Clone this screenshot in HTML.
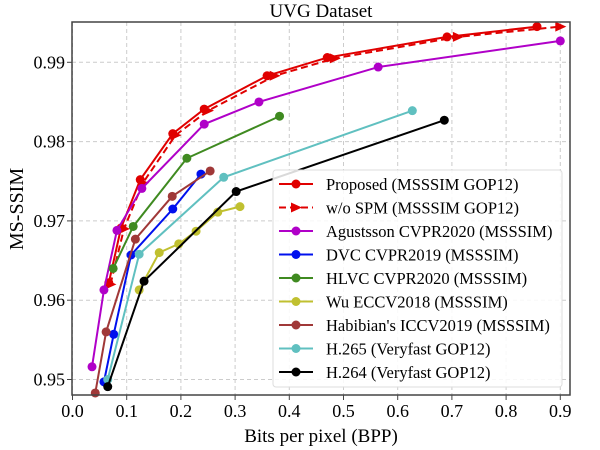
<!DOCTYPE html>
<html><head><meta charset="utf-8"><style>
body{margin:0;background:#fff}
svg{display:block;font-family:"Liberation Serif",serif}
</style></head><body>
<svg id="chart" width="600" height="450" viewBox="0 0 600 450" xmlns="http://www.w3.org/2000/svg">
<g id="grid"></g>
<g id="series"></g>
<rect x="72" y="22" width="498" height="373" fill="none" stroke="#444" stroke-width="1.5"/>
<g id="axes"></g>
<text x="321" y="17" font-size="19" text-anchor="middle">UVG Dataset</text>
<text x="321" y="442" font-size="19" text-anchor="middle">Bits per pixel (BPP)</text>
<text x="23" y="209" font-size="20" text-anchor="middle" transform="rotate(-90 23 209)">MS-SSIM</text>
<g id="legend"></g>
</svg>
<script>
const xTicks=[0.0,0.1,0.2,0.3,0.4,0.5,0.6,0.7,0.8,0.9];
const yTicks=[0.95,0.96,0.97,0.98,0.99];
const seriesNames=["Proposed (MSSSIM GOP12)","w/o SPM (MSSSIM GOP12)","Agustsson CVPR2020 (MSSSIM)","DVC CVPR2019 (MSSSIM)","HLVC CVPR2020 (MSSSIM)","Wu ECCV2018 (MSSSIM)","Habibian's ICCV2019 (MSSSIM)","H.265 (Veryfast GOP12)","H.264 (Veryfast GOP12)"];
const seriesColors=["#e00000","#e00000","#b000c8","#0010ee","#3f8a20","#c0c030","#a03838","#60c0c0","#000000"];
const proposedX=[0.067,0.0895,0.125,0.185,0.243,0.359,0.470,0.691,0.857];
const proposedY=[0.9622,0.9691,0.9752,0.9810,0.9841,0.9883,0.9906,0.9932,0.9945];
const wospmX=[0.070,0.095,0.130,0.190,0.250,0.373,0.484,0.711,0.900];
const wospmY=[0.9620,0.9690,0.9748,0.9808,0.9839,0.9883,0.9905,0.9932,0.9945];
const agusX=[0.036,0.058,0.082,0.128,0.243,0.344,0.564,0.900];
const agusY=[0.9516,0.9613,0.9688,0.9741,0.9822,0.9850,0.9894,0.9927];
const dvcX=[0.058,0.076,0.108,0.185,0.237];
const dvcY=[0.9497,0.9557,0.9657,0.9715,0.9759];
const hlvcX=[0.075,0.112,0.211,0.382];
const hlvcY=[0.9640,0.9693,0.9779,0.9832];
const wuX=[0.123,0.160,0.196,0.228,0.268,0.309];
const wuY=[0.9613,0.9660,0.9671,0.9687,0.9711,0.9718];
const habX=[0.042,0.062,0.116,0.184,0.254];
const habY=[0.9483,0.9560,0.9677,0.9731,0.9763];
const h265X=[0.065,0.123,0.279,0.627];
const h265Y=[0.9500,0.9658,0.9755,0.9839];
const h264X=[0.065,0.132,0.302,0.686];
const h264Y=[0.9491,0.9624,0.9737,0.9827];
const allX=[proposedX,wospmX,agusX,dvcX,hlvcX,wuX,habX,h265X,h264X];
const allY=[proposedY,wospmY,agusY,dvcY,hlvcY,wuY,habY,h265Y,h264Y];

const NS="http://www.w3.org/2000/svg";
function sx(v){return 72.5+v*542;}
function sy(v){return 62.3+(0.99-v)*7930;}
function mk(tag,attrs,parent){const e=document.createElementNS(NS,tag);for(const k in attrs)e.setAttribute(k,attrs[k]);parent.appendChild(e);return e;}
const grid=document.getElementById('grid'),axes=document.getElementById('axes'),ser=document.getElementById('series'),leg=document.getElementById('legend');
xTicks.forEach(t=>{
  const x=sx(t);
  const g=mk('line',{x1:x,x2:x,y1:22,y2:395,stroke:'#ccc','stroke-dasharray':'4,3','stroke-width':1},grid);
  
  
  const tk=mk('line',{x1:x,x2:x,y1:395,y2:400,stroke:'#444'},axes);
  
  
  const l=mk('text',{x:x,y:417,'font-size':18,'text-anchor':'middle'},axes);
  l.textContent=t.toFixed(1);
  
  
});
yTicks.forEach(t=>{
  const y=sy(t);
  const g=mk('line',{x1:72,x2:570,y1:y,y2:y,stroke:'#ccc','stroke-dasharray':'4,3','stroke-width':1},grid);
  
  
  const tk=mk('line',{x1:67,x2:72,y1:y,y2:y,stroke:'#444'},axes);
  
  
  const l=mk('text',{x:65,y:y+6,'font-size':18,'text-anchor':'end'},axes);
  l.textContent=t.toFixed(2);
  
  
});
function arrow(x,y,c,parent){
  return mk('polygon',{points:`${x-5},${y-5} ${x+6},${y} ${x-5},${y+5}`,fill:c},parent);
}
allX.forEach((xs,i)=>{
  const c=seriesColors[i];
  const g=mk('g',{},ser);
  
  
  const pts=xs.map((v,j)=>sx(v)+','+sy(allY[i][j])).join(' ');
  const pl=mk('polyline',{points:pts,fill:'none',stroke:c,'stroke-width':2},g);
  if(i===1)pl.setAttribute('stroke-dasharray','7,4');
  
  
  xs.forEach((v,j)=>{
    let m;
    if(i===1)m=arrow(sx(v),sy(allY[i][j]),c,g);
    else m=mk('circle',{cx:sx(v),cy:sy(allY[i][j]),r:4.5,fill:c},g);
    
    
  });
});
const box=mk('rect',{x:273,y:170,width:289,height:217,fill:'#fff','fill-opacity':0.85,stroke:'#ddd',rx:3},leg);


seriesNames.forEach((n,i)=>{
  const y=184+i*23.5,c=seriesColors[i];
  const g=mk('g',{},leg);
  
  
  const ln=mk('line',{x1:279,x2:313,y1:y,y2:y,stroke:c,'stroke-width':2},g);
  if(i===1)ln.setAttribute('stroke-dasharray','7,4');
  if(i===1)arrow(296,y,c,g);else mk('circle',{cx:296,cy:y,r:4.5,fill:c},g);
  const t=mk('text',{x:326,y:y+6,'font-size':16.5},g);
  t.textContent=n;
});
</script>
</body></html>
